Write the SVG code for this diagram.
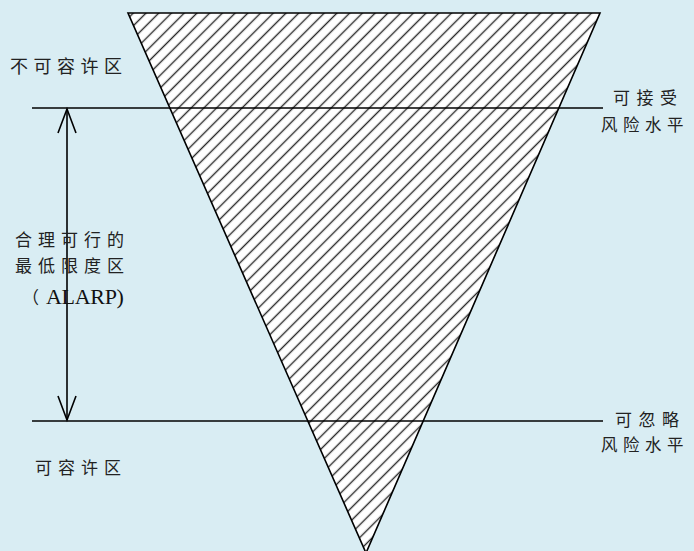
<svg xmlns="http://www.w3.org/2000/svg" width="694" height="551" viewBox="0 0 694 551">
<defs>
<pattern id="hatch" patternUnits="userSpaceOnUse" width="9" height="9" patternTransform="rotate(-45)">
<rect width="9" height="9" fill="#fff"/>
<line x1="0" y1="4.5" x2="9" y2="4.5" stroke="#2a2a2a" stroke-width="1.4"/>
</pattern>
</defs>
<style>
.cn{font-family:"Noto Sans CJK SC","Noto Sans",sans-serif;font-size:17px;fill:#222;letter-spacing:6px}
.ln{stroke:#000;stroke-width:1.6;fill:none}
</style>
<rect width="694" height="551" fill="#D9EDF3"/>
<g id="triangle">
<polygon points="128,13 600,13 366,553" fill="url(#hatch)" stroke="#000" stroke-width="1.6"/>
</g>
<g id="connectors">
<line class="ln" x1="32" y1="108" x2="603" y2="108"/>
<line class="ln" x1="32" y1="421" x2="603" y2="421"/>
<line class="ln" x1="67" y1="109" x2="67" y2="420"/>
<polyline class="ln" points="58,133 67,109 76,133"/>
<polyline class="ln" points="58,396 67,420 76,396"/>
</g>
<g id="label-unacceptable"><text class="cn" x="10" y="73" style="font-size:18px;letter-spacing:5.5px">不可容许区</text></g>
<g id="label-acceptable"><text class="cn" x="613" y="104" style="letter-spacing:6.5px">可接受</text><text class="cn" x="601" y="131" style="font-size:16.5px;letter-spacing:5.5px">风险水平</text></g>
<g id="label-alarp"><text class="cn" x="15" y="246">合理可行的</text><text class="cn" x="15" y="272">最低限度区</text><text class="cn" x="22" y="304" style="letter-spacing:0">（</text><text x="46" y="304" style="font-family:'Liberation Serif',serif;font-size:22px;fill:#111;letter-spacing:-0.3px">ALARP)</text></g>
<g id="label-negligible"><text class="cn" x="615" y="426" style="letter-spacing:6.5px">可忽略</text><text class="cn" x="601" y="451" style="font-size:16.5px;letter-spacing:5.5px">风险水平</text></g>
<g id="label-tolerable"><text class="cn" x="35" y="474">可容许区</text></g>
</svg>
